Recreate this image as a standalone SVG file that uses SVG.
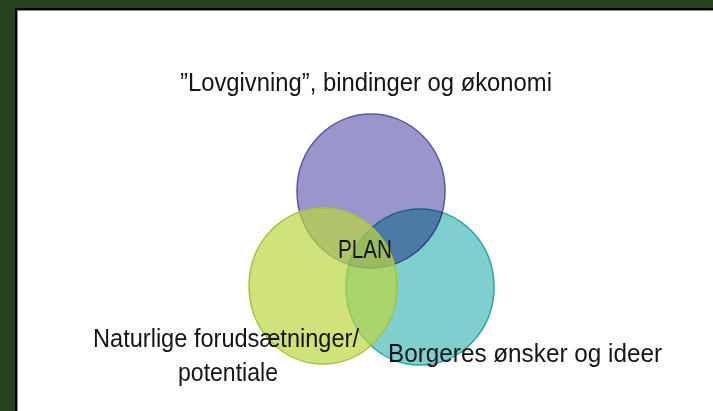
<svg xmlns="http://www.w3.org/2000/svg" width="713" height="411" viewBox="0 0 713 411">
<style>
.t{font-family:"Liberation Sans",Arial,sans-serif;font-size:26px;fill:#151515}
.c{stroke-width:1.5}
</style>
<rect x="0" y="0" width="713" height="411" fill="#24421b"/>
<rect x="15" y="8" width="698" height="403" fill="#000"/>
<rect x="17" y="10" width="696" height="401" fill="#8a8a8a"/>
<rect x="18" y="11" width="695" height="400" fill="#fff"/>
<g id="lovgivning">
<ellipse class="c" cx="371" cy="191" rx="74" ry="77" fill="#6f69b6" fill-opacity="0.7" stroke="#5a56a0"/>
<text class="t" x="366" y="91" text-anchor="middle" font-size="26" textLength="372" lengthAdjust="spacingAndGlyphs">”Lovgivning”, bindinger og økonomi</text>
</g>
<g id="borgeres">
<ellipse class="c" cx="420" cy="287" rx="74" ry="78" fill="#7fcfcf" stroke="#2ea3a3" style="mix-blend-mode:multiply"/>
<text class="t" x="388" y="362" textLength="274" lengthAdjust="spacingAndGlyphs">Borgeres ønsker og ideer</text>
</g>
<g id="naturlige">
<ellipse class="c" cx="323" cy="286" rx="74" ry="78" fill="#bad741" fill-opacity="0.7" stroke="#a5c43a"/>
<text class="t" x="226" y="347" text-anchor="middle" textLength="266" lengthAdjust="spacingAndGlyphs">Naturlige forudsætninger/</text>
<text class="t" x="228" y="381" text-anchor="middle" textLength="100" lengthAdjust="spacingAndGlyphs">potentiale</text>
</g>
<g id="plan">
<text class="t" x="365" y="258" text-anchor="middle" textLength="54" lengthAdjust="spacingAndGlyphs">PLAN</text>
</g>
<g id="connectors"></g>
</svg>
